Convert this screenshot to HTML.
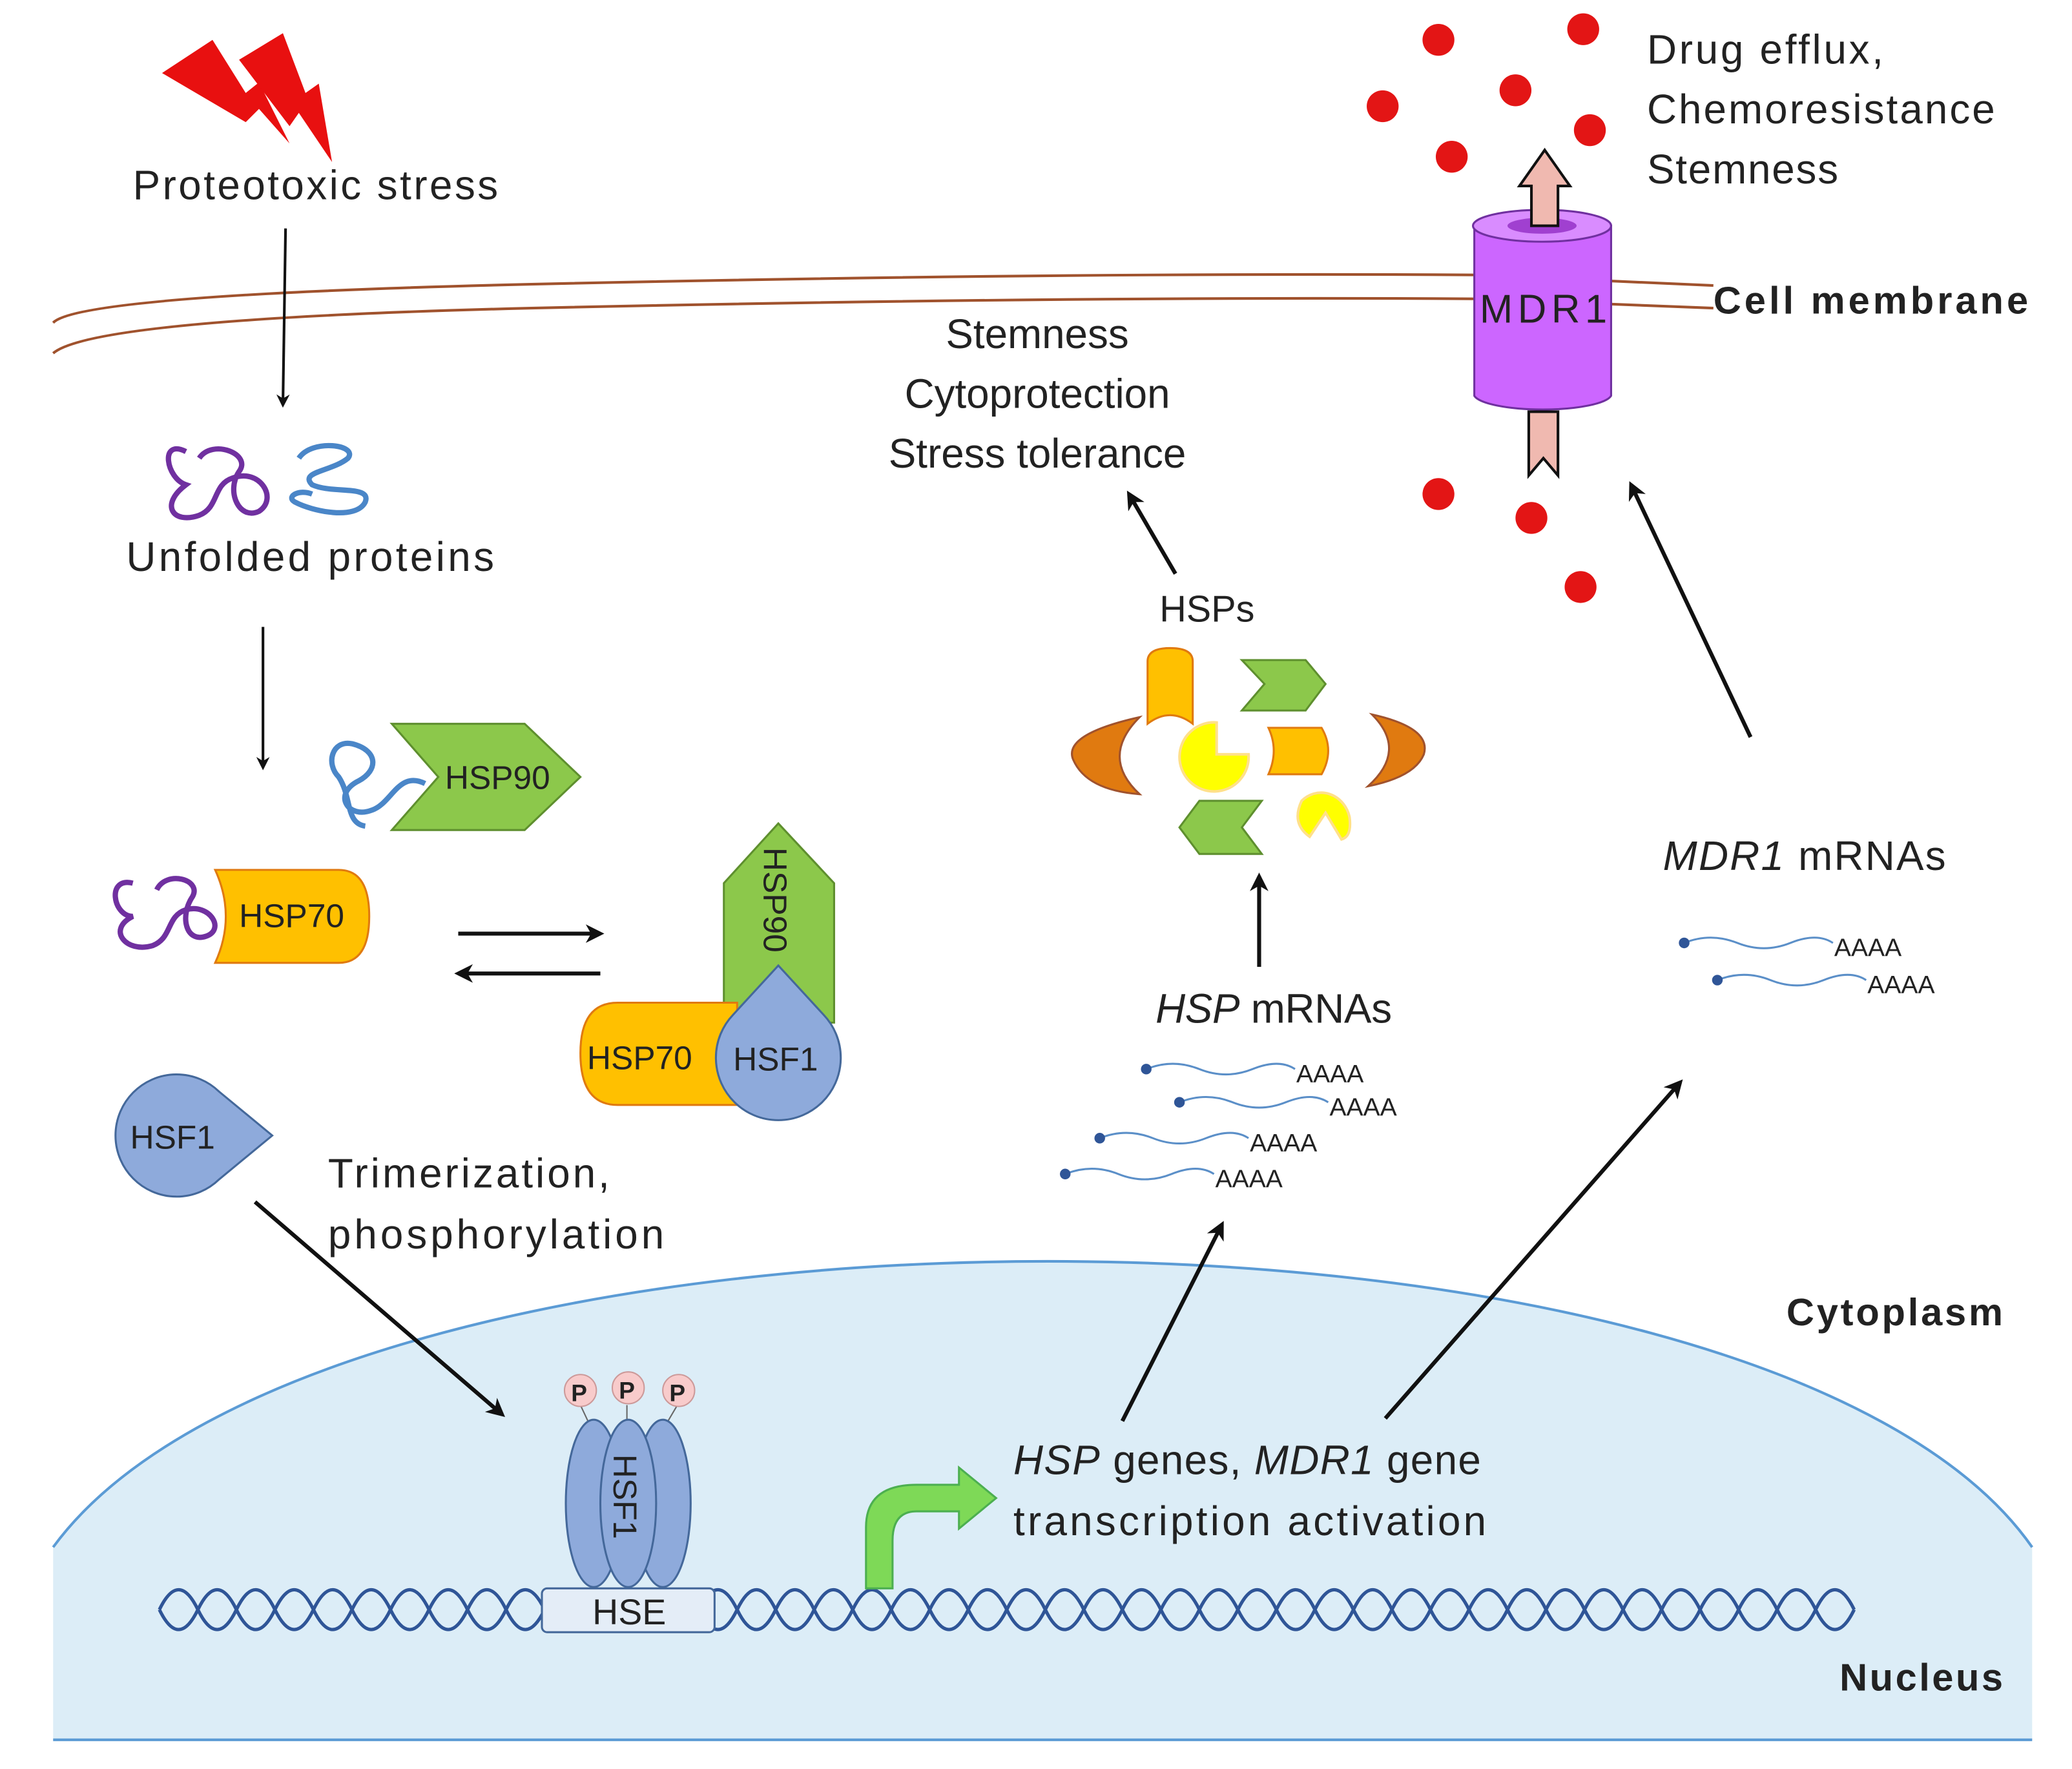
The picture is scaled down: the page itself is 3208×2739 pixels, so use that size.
<!DOCTYPE html>
<html><head><meta charset="utf-8"><style>
html,body{margin:0;padding:0;background:#fff}
svg{display:block}
text{font-family:"Liberation Sans",sans-serif;fill:#222}
</style></head><body>
<svg width="3208" height="2739" viewBox="0 0 1560 1332" preserveAspectRatio="none" xmlns="http://www.w3.org/2000/svg">
<defs>
<marker id="ah" markerWidth="10" markerHeight="10" refX="8" refY="5" orient="auto" markerUnits="userSpaceOnUse" viewBox="0 0 10 10"><path d="M0,0 L10,5 L0,10 L3,5 z" fill="#111"/></marker>
<marker id="ah2" markerWidth="14" markerHeight="14" refX="11" refY="7" orient="auto" markerUnits="userSpaceOnUse" viewBox="0 0 14 14"><path d="M0,0 L14,7 L0,14 L4,7 z" fill="#111"/></marker>
</defs>

<!-- nucleus -->
<path d="M40,1165 C250,878 1330,878 1530,1165 L1530,1310 L40,1310 Z" fill="#dcedf7"/>
<path d="M40,1165 C250,878 1330,878 1530,1165" fill="none" stroke="#5b9bd5" stroke-width="2"/>
<line x1="40" y1="1310" x2="1530" y2="1310" stroke="#5b9bd5" stroke-width="2"/>

<!-- membrane -->
<path d="M40,243 Q60,222 400,214 Q800,205 1110,207 L1290,215" fill="none" stroke="#a0522d" stroke-width="2"/>
<path d="M40,266 Q70,240 400,232 Q800,223 1110,225 L1290,232" fill="none" stroke="#a0522d" stroke-width="2"/>

<!-- lightning -->
<path d="M122,55 L160,30 L185,70 L195,62 L218,108 L195,82 L185,92 Z" fill="#e81010"/>
<path d="M180,45 L213,25 L230,70 L240,63 L250,122 L225,85 L218,95 Z" fill="#e81010"/>

<text x="100" y="150" font-size="31" textLength="275">Proteotoxic  stress</text>
<line x1="215" y1="172" x2="213" y2="305" stroke="#111" stroke-width="2" marker-end="url(#ah)"/>

<!-- unfolded proteins -->
<path d="M140,340 C120,330 125,360 140,365 C120,380 130,395 150,388 C165,382 160,365 175,360 C195,352 210,375 195,385 C180,392 170,370 180,355 C190,342 160,330 150,345" fill="none" stroke="#7030a0" stroke-width="4"/>
<path d="M225,345 C235,330 270,335 262,345 C250,355 225,355 235,365 C250,372 280,365 275,378 C268,392 235,385 222,378 C215,374 225,368 235,372" fill="none" stroke="#4a86c8" stroke-width="4"/>
<text x="95" y="430" font-size="31" textLength="277">Unfolded proteins</text>
<line x1="198" y1="472" x2="198" y2="578" stroke="#111" stroke-width="2" marker-end="url(#ah)"/>

<!-- HSP90 horizontal -->
<path d="M295,545 L395,545 L437,585 L395,625 L295,625 L330,585 Z" fill="#8cc84b" stroke="#5e8f2e" stroke-width="1.5"/>
<text x="335" y="594" font-size="25">HSP90</text>
<path d="M320,590 C300,580 295,605 280,610 C262,617 250,598 270,588 C285,580 285,565 265,560 C250,557 245,575 255,585 C265,600 260,620 275,622" fill="none" stroke="#4a86c8" stroke-width="4"/>

<!-- HSP70 left -->
<path d="M162,655 L255,655 Q278,655 278,690 Q278,725 255,725 L162,725 Q178,690 162,655 Z" fill="#ffc000" stroke="#e07a10" stroke-width="1.5"/>
<text x="180" y="698" font-size="25">HSP70</text>
<path d="M100,665 C80,660 85,690 100,690 C80,700 95,718 115,712 C130,706 125,690 140,685 C158,680 170,700 155,705 C140,710 135,690 145,675 C152,662 125,655 118,670" fill="none" stroke="#7030a0" stroke-width="4"/>

<line x1="345" y1="703" x2="452" y2="703" stroke="#111" stroke-width="3" marker-end="url(#ah2)"/>
<line x1="452" y1="733" x2="345" y2="733" stroke="#111" stroke-width="3" marker-end="url(#ah2)"/>

<!-- complex -->
<path d="M545,665 L586,620 L628,665 L628,770 L545,770 Z" fill="#8cc84b" stroke="#5e8f2e" stroke-width="1.5"/>
<text transform="translate(575,638) rotate(90)" font-size="25">HSP90</text>
<path d="M465,755 L555,755 L555,832 L465,832 Q437,832 437,793 Q437,755 465,755 Z" fill="#ffc000" stroke="#e07a10" stroke-width="1.5"/>
<text x="442" y="805" font-size="25">HSP70</text>
<path d="M586,727 L620,764 A47,47 0 1 1 552,764 Z" fill="#8eaadb" stroke="#44689a" stroke-width="1.5"/>
<text x="552" y="806" font-size="25">HSF1</text>

<!-- HSF1 standalone -->
<path d="M205,855 L165,822 A46,46 0 1 0 165,888 Z" fill="#8eaadb" stroke="#44689a" stroke-width="1.5"/>
<text x="98" y="865" font-size="25">HSF1</text>

<text x="247" y="894" font-size="31" textLength="212">Trimerization,</text>
<text x="247" y="940" font-size="31" textLength="253">phosphorylation</text>
<line x1="192" y1="905" x2="378" y2="1065" stroke="#111" stroke-width="3" marker-end="url(#ah2)"/>

<!-- DNA -->
<path d="M120,1212 q14.5,-30 29,0 t29,0 t29,0 t29,0 t29,0 t29,0 t29,0 t29,0 t29,0 t29,0 t29,0 t29,0 t29,0 t29,0 t29,0 t29,0 t29,0 t29,0 t29,0 t29,0 t29,0 t29,0 t29,0 t29,0 t29,0 t29,0 t29,0 t29,0 t29,0 t29,0 t29,0 t29,0 t29,0 t29,0 t29,0 t29,0 t29,0 t29,0 t29,0 t29,0 t29,0 t29,0 t29,0 t29,0" fill="none" stroke="#2f5597" stroke-width="2.5"/>
<path d="M120,1212 q14.5,30 29,0 t29,0 t29,0 t29,0 t29,0 t29,0 t29,0 t29,0 t29,0 t29,0 t29,0 t29,0 t29,0 t29,0 t29,0 t29,0 t29,0 t29,0 t29,0 t29,0 t29,0 t29,0 t29,0 t29,0 t29,0 t29,0 t29,0 t29,0 t29,0 t29,0 t29,0 t29,0 t29,0 t29,0 t29,0 t29,0 t29,0 t29,0 t29,0 t29,0 t29,0 t29,0 t29,0 t29,0" fill="none" stroke="#2f5597" stroke-width="2.5"/>
<rect x="408" y="1196" width="130" height="33" rx="4" fill="#e4edf7" stroke="#44689a" stroke-width="1.5"/>
<text x="446" y="1223" font-size="27">HSE</text>

<!-- trimer -->
<line x1="437" y1="1058" x2="445" y2="1075" stroke="#666"/><line x1="472" y1="1058" x2="472" y2="1075" stroke="#666"/><line x1="510" y1="1058" x2="500" y2="1075" stroke="#666"/>
<ellipse cx="447" cy="1132" rx="21" ry="63" fill="#8eaadb" stroke="#44689a" stroke-width="1.5"/>
<ellipse cx="499" cy="1132" rx="21" ry="63" fill="#8eaadb" stroke="#44689a" stroke-width="1.5"/>
<ellipse cx="473" cy="1132" rx="21" ry="63" fill="#8eaadb" stroke="#44689a" stroke-width="1.5"/>
<text transform="translate(462,1095) rotate(90)" font-size="25">HSF1</text>
<circle cx="437" cy="1047" r="12" fill="#f8cbcb" stroke="#c99" />
<circle cx="473" cy="1045" r="12" fill="#f8cbcb" stroke="#c99" />
<circle cx="511" cy="1047" r="12" fill="#f8cbcb" stroke="#c99" />
<text x="430" y="1055" font-size="18" font-weight="bold">P</text>
<text x="466" y="1053" font-size="18" font-weight="bold">P</text>
<text x="504" y="1055" font-size="18" font-weight="bold">P</text>

<!-- green bent arrow -->
<path d="M652,1196 L652,1150 Q652,1118 690,1118 L722,1118 L722,1105 L750,1128 L722,1151 L722,1138 L690,1138 Q672,1138 672,1160 L672,1196 Z" fill="#7ed957" stroke="#4caf50" stroke-width="1.5"/>

<text x="763" y="1110" font-size="31" textLength="352"><tspan font-style="italic">HSP</tspan> genes, <tspan font-style="italic">MDR1</tspan> gene</text>
<text x="763" y="1156" font-size="31" textLength="356">transcription activation</text>
<line x1="845" y1="1070" x2="920" y2="922" stroke="#111" stroke-width="3" marker-end="url(#ah2)"/>
<line x1="1043" y1="1068" x2="1265" y2="815" stroke="#111" stroke-width="3" marker-end="url(#ah2)"/>

<text x="1345" y="998" font-size="29" font-weight="bold" textLength="163">Cytoplasm</text>
<text x="1385" y="1273" font-size="29" font-weight="bold" textLength="123">Nucleus</text>

<!-- HSP mRNAs -->
<text x="870" y="770" font-size="31" textLength="178"><tspan font-style="italic">HSP</tspan> mRNAs</text>
<g fill="none" stroke="#5b8fc8" stroke-width="1.5">
<path d="M863,805 q20,-8 40,0 t40,0 t32,0"/><path d="M888,830 q20,-8 40,0 t40,0 t32,0"/>
<path d="M828,857 q20,-8 40,0 t40,0 t32,0"/><path d="M802,884 q20,-8 40,0 t40,0 t32,0"/>
<path d="M1268,710 q20,-8 40,0 t40,0 t32,0"/><path d="M1293,738 q20,-8 40,0 t40,0 t32,0"/>
</g>
<g fill="#2f5597"><circle cx="863" cy="805" r="4"/><circle cx="888" cy="830" r="4"/><circle cx="828" cy="857" r="4"/><circle cx="802" cy="884" r="4"/><circle cx="1268" cy="710" r="4"/><circle cx="1293" cy="738" r="4"/></g>
<g font-size="19"><text x="976" y="815">AAAA</text><text x="1001" y="840">AAAA</text><text x="941" y="867">AAAA</text><text x="915" y="894">AAAA</text><text x="1381" y="720">AAAA</text><text x="1406" y="748">AAAA</text></g>
<line x1="948" y1="728" x2="948" y2="660" stroke="#111" stroke-width="3" marker-end="url(#ah2)"/>

<!-- HSPs -->
<text x="873" y="468" font-size="28">HSPs</text>
<path d="M864,545 L864,498 Q864,488 881,488 Q898,488 898,498 L898,545 Q881,532 864,545 Z" fill="#ffc000" stroke="#e07a10" stroke-width="1.5"/>
<path d="M935,497 L983,497 L998,515 L983,535 L935,535 L952,515 Z" fill="#8cc84b" stroke="#5e8f2e" stroke-width="1.5"/>
<path d="M950,643 L903,643 L888,623 L903,603 L950,603 L935,623 Z" fill="#8cc84b" stroke="#5e8f2e" stroke-width="1.5"/>
<path d="M955,548 L995,548 Q1005,565 995,583 L955,583 Q963,565 955,548 Z" fill="#ffc000" stroke="#e07a10" stroke-width="1.5"/>
<path d="M858,540 Q800,553 808,572 Q818,595 858,598 Q828,570 858,540 Z" fill="#e07a10" stroke="#a0522d" stroke-width="1.5"/>
<path d="M1033,538 Q1078,548 1072,568 Q1065,585 1030,592 Q1060,565 1033,538 Z" fill="#e07a10" stroke="#a0522d" stroke-width="1.5"/>
<path d="M916,544 L916,568 L940,568 A26,26 0 1 1 916,544 Z" fill="#ffff00" stroke="#ffe08a" stroke-width="2"/>
<path d="M980,603 A22,24 0 0 1 1016,615 Q1018,630 1010,632 L998,612 L986,630 Q972,620 980,603 Z" fill="#ffff00" stroke="#ffe08a" stroke-width="2"/>
<line x1="885" y1="432" x2="850" y2="372" stroke="#111" stroke-width="3" marker-end="url(#ah2)"/>

<g font-size="31" text-anchor="middle"><text x="781" y="262">Stemness</text><text x="781" y="307">Cytoprotection</text><text x="781" y="352">Stress tolerance</text></g>

<!-- MDR1 -->
<path d="M1110,170 L1110,298 A52,12 0 0 0 1213,298 L1213,170 Z" fill="#cc66ff" stroke="#7030a0" stroke-width="1.5"/>
<ellipse cx="1161" cy="170" rx="52" ry="12" fill="#d98cff" stroke="#7030a0" stroke-width="1.5"/>
<ellipse cx="1161" cy="170" rx="26" ry="6" fill="#a040d0"/>
<text x="1114" y="243" font-size="30" textLength="96">MDR1</text>
<path d="M1153,170 L1153,140 L1144,140 L1163,113 L1182,140 L1173,140 L1173,170 Z" fill="#f0b9b0" stroke="#111" stroke-width="2"/>
<path d="M1151,310 L1173,310 L1173,358 L1162,345 L1151,358 Z" fill="#f0b9b0" stroke="#111" stroke-width="2"/>

<g fill="#e31515"><circle cx="1083" cy="30" r="12"/><circle cx="1192" cy="22" r="12"/><circle cx="1041" cy="80" r="12"/><circle cx="1141" cy="68" r="12"/><circle cx="1197" cy="98" r="12"/><circle cx="1093" cy="118" r="12"/><circle cx="1083" cy="372" r="12"/><circle cx="1153" cy="390" r="12"/><circle cx="1190" cy="442" r="12"/></g>

<g font-size="31"><text x="1240" y="48" textLength="178">Drug efflux,</text><text x="1240" y="93" textLength="262">Chemoresistance</text><text x="1240" y="138" textLength="144">Stemness</text></g>
<text x="1290" y="236" font-size="29" font-weight="bold" textLength="237">Cell membrane</text>
<line x1="1318" y1="555" x2="1228" y2="365" stroke="#111" stroke-width="3" marker-end="url(#ah2)"/>
<text x="1252" y="655" font-size="31" textLength="213"><tspan font-style="italic">MDR1</tspan> mRNAs</text>
</svg>
</body></html>
